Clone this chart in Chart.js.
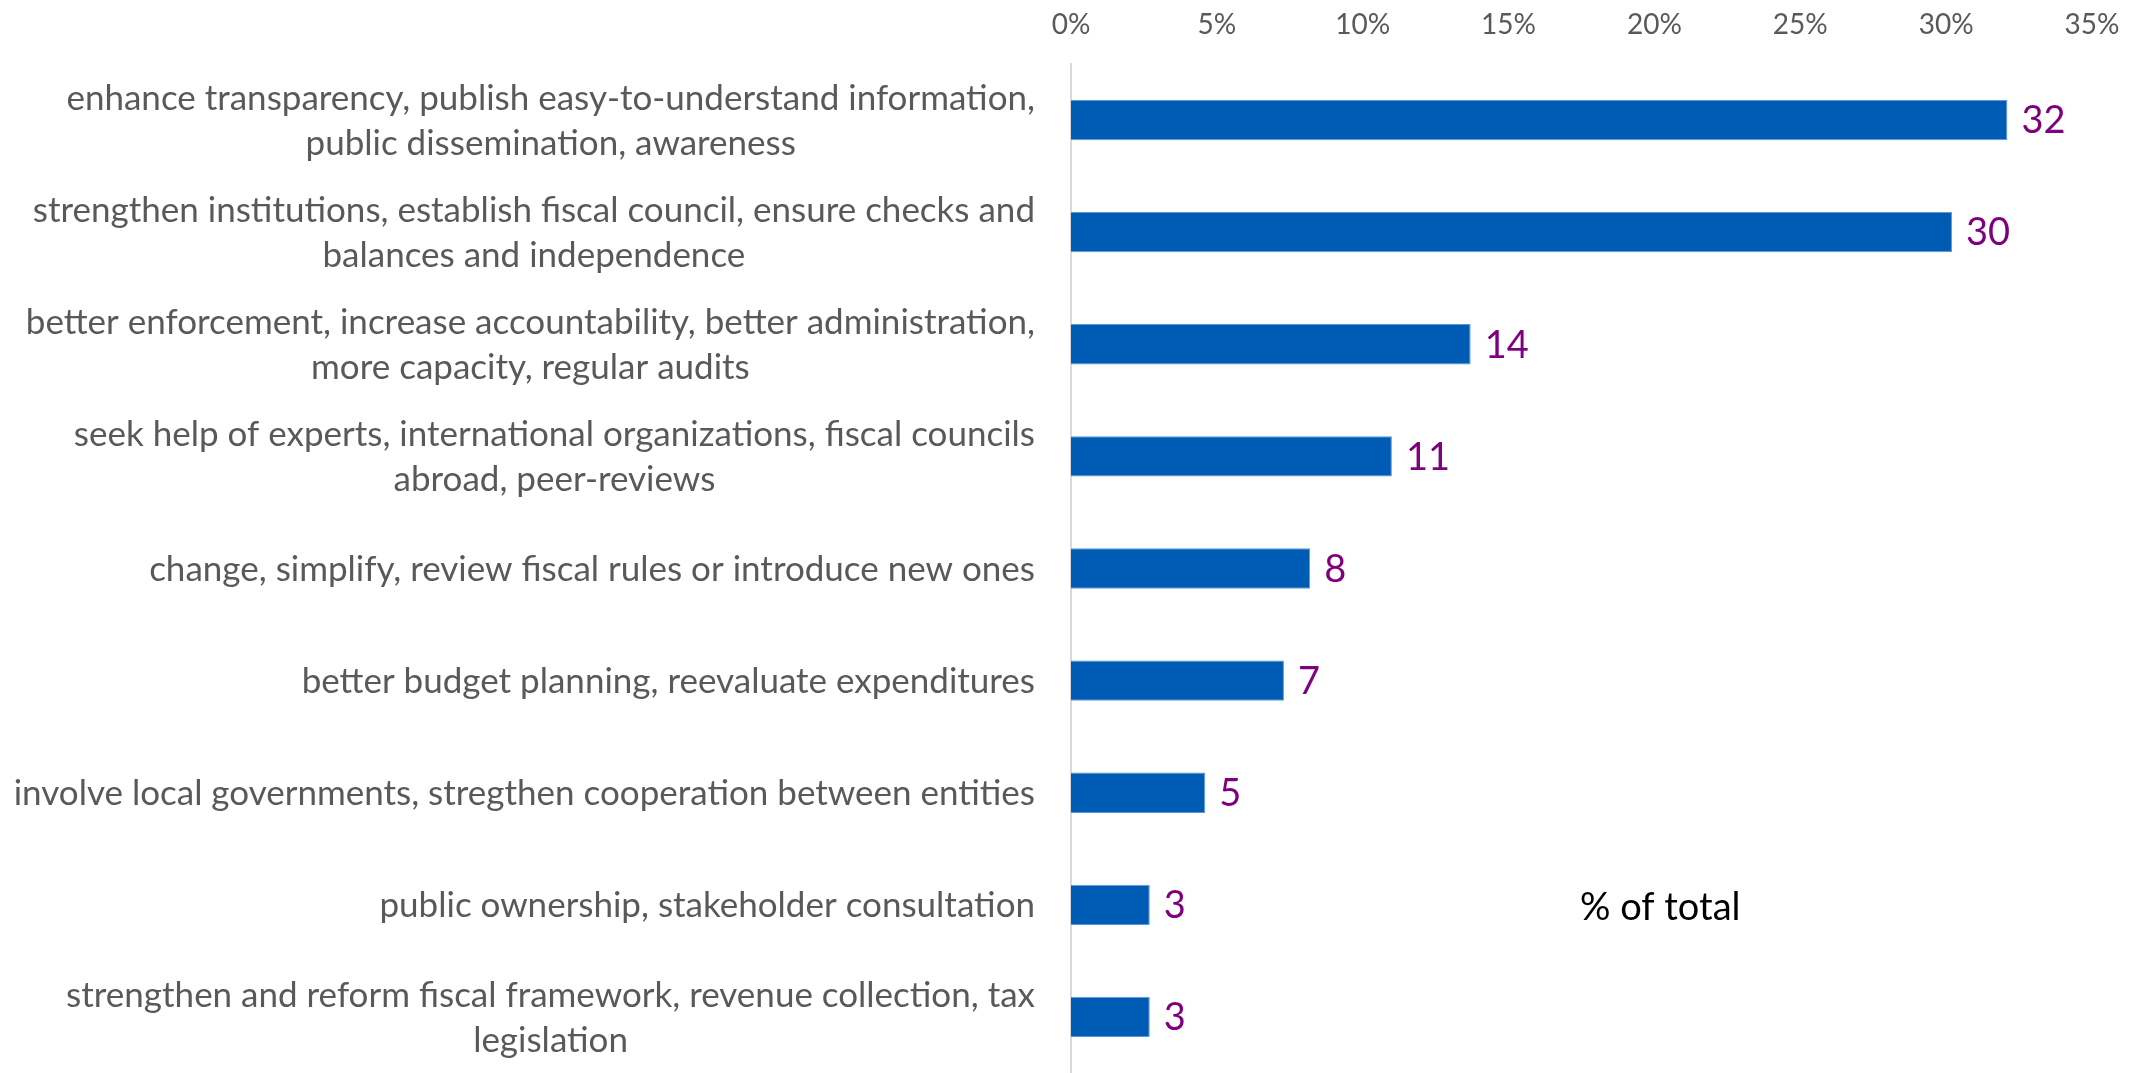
<!DOCTYPE html>
<html><head><meta charset="utf-8">
<script src="https://cdn.jsdelivr.net/npm/chart.js@4.4.1/dist/chart.umd.min.js"></script>
<style>html,body{margin:0;padding:0;background:#fff;overflow:hidden}#wrap{width:2136px;height:1073px;position:relative}</style>
</head><body><div id="wrap"><canvas id="c"></canvas></div>
<script>
const categories = [
  ["enhance transparency, publish easy-to-understand information,", "public dissemination, awareness"],
  ["strengthen institutions, establish fiscal council, ensure checks and", "balances and independence"],
  ["better enforcement, increase accountability, better administration,", "more capacity, regular audits"],
  ["seek help of experts, international organizations, fiscal councils", "abroad, peer-reviews"],
  "change, simplify, review fiscal rules or introduce new ones",
  "better budget planning, reevaluate expenditures",
  "involve local governments, stregthen cooperation between entities",
  "public ownership, stakeholder consultation",
  ["strengthen and reform fiscal framework, revenue collection, tax", "legislation"]
];
const values = [32.1, 30.2, 13.7, 11.0, 8.2, 7.3, 4.6, 2.7, 2.7];
const valueLabels = ["32", "30", "14", "11", "8", "7", "5", "3", "3"];
const xTickMin = 0, xTickMax = 35, xTickStep = 5;
const seriesName = "% of total";

const FONT = "Lato, 'Open Sans', sans-serif";

const catLabelPlugin = {
  id: 'catLabels',
  afterDraw(chart) {
    const ctx = chart.ctx, ys = chart.scales.y, area = chart.chartArea;
    ctx.save();
    ctx.font = "35px " + FONT;
    ctx.fillStyle = '#595959';
    ctx.textBaseline = 'middle';
    ctx.textAlign = 'center';
    const right = area.left - 36, lh = 45;
    categories.forEach((lab, i) => {
      const lines = Array.isArray(lab) ? lab : [lab];
      const w = Math.max(...lines.map(l => ctx.measureText(l).width));
      const cx = right - w / 2;
      const yc = ys.getPixelForValue(i);
      lines.forEach((l, j) => ctx.fillText(l, cx, yc + 1 + (j - (lines.length - 1) / 2) * lh));
    });
    ctx.restore();
  }
};

const valueLabelPlugin = {
  id: 'valueLabels',
  afterDatasetsDraw(chart) {
    const ctx = chart.ctx;
    const meta = chart.getDatasetMeta(0);
    ctx.save();
    ctx.font = "38px " + FONT;
    ctx.fillStyle = '#7F007F';
    ctx.textBaseline = 'middle';
    ctx.textAlign = 'left';
    meta.data.forEach((el, i) => ctx.fillText(valueLabels[i], el.x + 14, el.y + 1));
    ctx.restore();
  }
};

const notePlugin = {
  id: 'note',
  afterDraw(chart) {
    const ctx = chart.ctx, a = chart.chartArea;
    ctx.save();
    ctx.font = "38px " + FONT;
    ctx.fillStyle = '#000000';
    ctx.textBaseline = 'middle';
    ctx.textAlign = 'left';
    ctx.fillText(seriesName, a.left + 0.4985 * (a.right - a.left), a.top + 0.8365 * (a.bottom - a.top));
    ctx.restore();
  }
};

new Chart(document.getElementById('c'), {
  type: 'bar',
  data: {
    labels: categories,
    datasets: [{
      label: seriesName,
      data: values,
      backgroundColor: '#005BB5',
      borderColor: '#5B9BD5',
      borderWidth: 1,
      barPercentage: 0.36,
      categoryPercentage: 1.0
    }]
  },
  options: {
    indexAxis: 'y',
    responsive: true,
    maintainAspectRatio: false,
    animation: false,
    devicePixelRatio: 1,
    layout: { padding: { left: 0, right: 44, top: 0, bottom: 0 } },
    plugins: { legend: { display: false }, tooltip: { enabled: false } },
    scales: {
      x: {
        position: 'top',
        min: xTickMin, max: xTickMax,
        ticks: {
          stepSize: xTickStep,
          callback: v => v + '%',
          font: { family: FONT, size: 28 },
          color: '#595959',
          padding: 22,
          maxRotation: 0
        },
        grid: { display: false, drawTicks: false },
        border: { display: false },
        afterFit: s => { s.height = 64; s.paddingLeft = 0; s.paddingRight = 0; }
      },
      y: {
        ticks: { display: false },
        grid: { display: false, drawTicks: false },
        border: { display: true, color: '#D9D9D9', width: 2 },
        afterFit: s => { s.width = 1071; }
      }
    }
  },
  plugins: [catLabelPlugin, valueLabelPlugin, notePlugin]
});
</script>
</body></html>
